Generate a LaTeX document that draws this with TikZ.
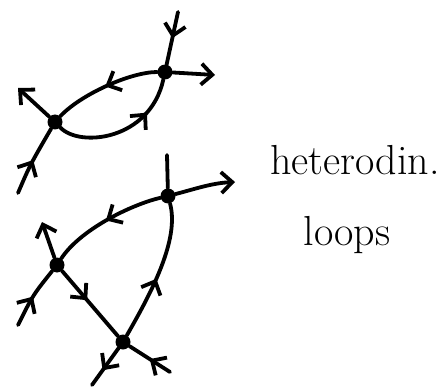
\documentclass[tikz,border=0pt]{standalone}
\usepackage{fontspec}
\usetikzlibrary{arrows.meta,decorations.markings}
\tikzset{
  vertex/.style={circle,fill,inner sep=0pt,minimum size=15pt},
  leg/.style={line width=3.8pt,line cap=round},
  barb/.tip={Straight Barb[length=11pt,width=21pt,line width=3.8pt]},
  midarrow/.style={postaction={decorate},decoration={markings,
      mark=at position #1 with {\arrow{barb}}}},
  endarrow/.style={-barb},
  handtext/.style={font=\fontsize{42}{48}\selectfont,anchor=base,inner sep=0pt}
}
\begin{document}
\begin{tikzpicture}[x=1pt,y=-1pt]
  \useasboundingbox (0,0) rectangle (446,387);
  % upper loop
  \node[vertex] (A) at (55,122) {};
  \node[vertex] (B) at (165,72) {};
  \coordinate (Ain) at (18,193);
  \coordinate (Aout) at (18,88);
  \coordinate (Bin) at (178,12);
  \coordinate (Bout) at (215,75);
  \draw[leg,midarrow=0.5] (B) .. controls (130,72) and (80,95) .. (A);
  \draw[leg,midarrow=0.72] (A) .. controls (80,148) and (150,140) .. (B);
  \draw[leg,midarrow=0.5] (Ain) .. controls (30,165) .. (A);
  \draw[leg,endarrow] (A) -- (Aout);
  \draw[leg,midarrow=0.5] (Bin) -- (B);
  \draw[leg,endarrow] (B) -- (Bout);
  % lower loop
  \node[vertex] (C) at (168,196) {};
  \node[vertex] (D) at (57,265) {};
  \node[vertex] (E) at (123,342) {};
  \coordinate (Ctop) at (167,155);
  \coordinate (Cout) at (235,182);
  \coordinate (Din) at (18,325);
  \coordinate (Dout) at (42,222);
  \coordinate (Eout) at (92,385);
  \coordinate (Ein) at (170,372);
  \draw[leg] (Ctop) -- (C);
  \draw[leg,endarrow] (C) .. controls (195,189) and (212,183) .. (Cout);
  \draw[leg,midarrow=0.5] (C) .. controls (130,205) and (80,230) .. (D);
  \draw[leg,midarrow=0.45] (E) .. controls (150,295) and (180,240) .. (C);
  \draw[leg,midarrow=0.45] (D) -- (E);
  \draw[leg,midarrow=0.5] (Din) .. controls (33,295) .. (D);
  \draw[leg,endarrow] (D) -- (Dout);
  \draw[leg,midarrow=0.6] (E) -- (Eout);
  \draw[leg,midarrow=0.5] (Ein) -- (E);
  % text
  \node[handtext] (title) at (355,175) {heterodin.};
  \node[handtext] (loops) at (347,245) {loops};
\end{tikzpicture}
\end{document}
